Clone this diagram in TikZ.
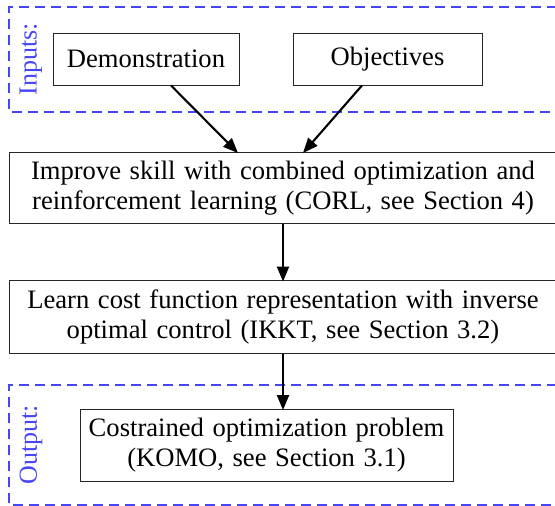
\documentclass[tikz,border=0pt]{standalone}
\usepackage{fontspec}
\setmainfont{Liberation Serif}
\usetikzlibrary{arrows.meta}
\definecolor{grpblue}{RGB}{70,70,245}
% text of the stage boxes: a little wider word spacing
\newcommand\stagefont{\fontsize{26.6}{30.5}\selectfont\spaceskip=8.6pt\relax}
\tikzset{
  stage/.style={draw=black!85, line width=0.9pt, inner sep=0pt, align=center,
    font=\stagefont},
  group/.style={draw=grpblue, line width=1.3pt, dash pattern=on 10pt off 6pt},
  grouplabel/.style={text=grpblue, rotate=90, inner sep=0pt,
    font=\fontsize{26}{30}\selectfont},
  flow/.style={line width=2.1pt, -{Triangle[length=15pt,width=12pt]}}
}
\begin{document}
\begin{tikzpicture}[x=1pt, y=-1pt]
\useasboundingbox (0,0) rectangle (555,506);

% input and output groups
\draw[group] (557,7) -- (9,7) -- (9,112) -- (557,112);
\draw[group] (557,385) -- (9,385) -- (9,505) -- (557,505);
\node[grouplabel] (inlbl) at (31,59) {Inputs:};
\node[grouplabel] (outlbl) at (31,445) {Output:};

% stages
\node[stage, minimum width=186pt, minimum height=52pt] (demo) at (146,59) {Demonstration};
\node[stage, minimum width=189pt, minimum height=52pt] (obj) at (387.5,59) {Objectives};
\node[stage, minimum width=548pt, minimum height=71pt] (corl) at (283,188)
  {Improve skill with combined optimization and\\reinforcement learning (CORL, see Section 4)};
\node[stage, minimum width=548pt, minimum height=73pt] (ikkt) at (283,317)
  {Learn cost function representation with inverse\\optimal control (IKKT, see Section 3.2)};
\node[stage, minimum width=373pt, minimum height=72pt] (komo) at (266.5,445)
  {Costrained optimization problem\\(KOMO, see Section 3.1)};

% connectors
\draw[flow] ([xshift=25pt]demo.south) -- ([xshift=-45pt,yshift=-1pt]corl.north);
\draw[flow] ([xshift=-25.5pt]obj.south) -- ([xshift=20pt,yshift=-1pt]corl.north);
\draw[flow] (corl.south) -- ([yshift=-1.5pt]ikkt.north);
\draw[flow] (ikkt.south) -- ([yshift=-1.5pt]ikkt.south |- komo.north);
\end{tikzpicture}
\end{document}
